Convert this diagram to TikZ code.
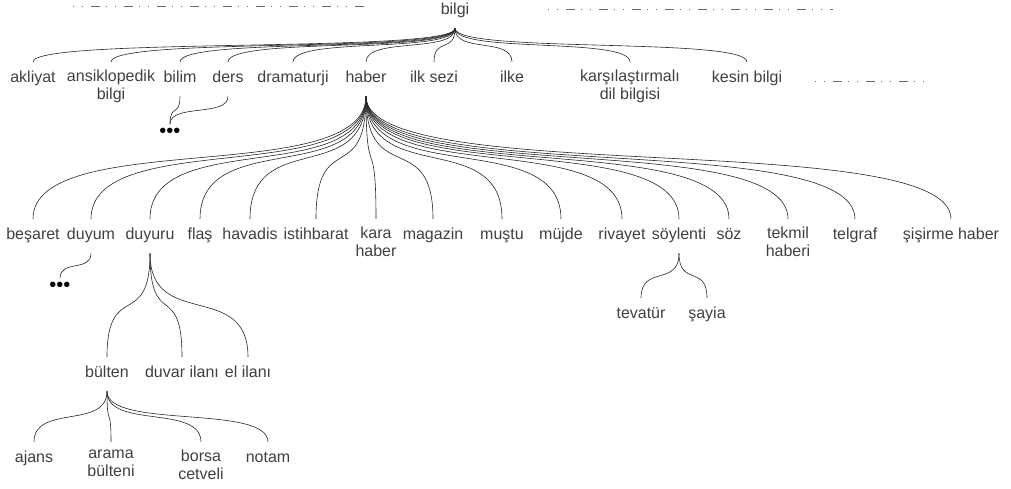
\documentclass[tikz,border=0pt]{standalone}
\usepackage{fontspec}
\setmainfont{Liberation Sans}
\usetikzlibrary{calc}
\tikzset{
  lbl/.style={anchor=north, font=\fontsize{16}{18}\selectfont, text=black!75,
    align=center, inner xsep=1pt, inner ysep=8pt,
    execute at begin node=\strut, execute at end node=\strut},
  dots/.style={anchor=center, font=\fontsize{20}{20}\selectfont, text=black, inner xsep=0pt, inner ysep=4pt},
  conn/.style={draw=black!85, line width=0.6pt},
  branch/.style={to path={let \p1=(\tikztostart), \p2=(\tikztotarget), \n1={0.75*(\y2-\y1)} in
      .. controls (\x1,\y1+\n1) and (\x2,\y2-\n1) .. (\tikztotarget)}},
  dd/.style={draw=black!60, line width=0.6pt, dash pattern=on 1pt off 8pt on 1pt off 8pt on 9pt off 6pt}
}
\begin{document}
\begin{tikzpicture}[x=1pt,y=-1pt]
\useasboundingbox (0,0) rectangle (1011,489);
% dotted-dashed rules
\draw[dd] (73,6) -- (367,6);
\draw[dd] (548,9) -- (833,9);
\draw[dd] (815,81) -- (930,81);
% root
\node[lbl] (bilgi) at (455,-6) {bilgi};
% level 1
\node[lbl] (akliyat) at (33,62) {akliyat};
\node[lbl] (ansiklopedik) at (111,62) {ansiklopedik\\bilgi};
\node[lbl] (bilim) at (180,62) {bilim};
\node[lbl] (ders) at (228,62) {ders};
\node[lbl] (dramaturji) at (293,62) {dramaturji};
\node[lbl] (haber) at (366,62) {haber};
\node[lbl] (ilksezi) at (434,62) {ilk sezi};
\node[lbl] (ilke) at (512,62) {ilke};
\node[lbl] (karsilastirmali) at (630,62) {karşılaştırmalı\\dil bilgisi};
\node[lbl] (kesinbilgi) at (747,62) {kesin bilgi};
\node[dots] (dotsA) at (170,133) {•••};
% level 2
\node[lbl] (besaret) at (33,219) {beşaret};
\node[lbl] (duyum) at (91,219) {duyum};
\node[lbl] (duyuru) at (150,219) {duyuru};
\node[lbl] (flas) at (200,219) {flaş};
\node[lbl] (havadis) at (250,219) {havadis};
\node[lbl] (istihbarat) at (316,219) {istihbarat};
\node[lbl] (karahaber) at (376,219) {kara\\haber};
\node[lbl] (magazin) at (433,219) {magazin};
\node[lbl] (mustu) at (502,219) {muştu};
\node[lbl] (mujde) at (561,219) {müjde};
\node[lbl] (rivayet) at (622,219) {rivayet};
\node[lbl] (soylenti) at (679,219) {söylenti};
\node[lbl] (soz) at (729,219) {söz};
\node[lbl] (tekmil) at (788,219) {tekmil\\haberi};
\node[lbl] (telgraf) at (855,219) {telgraf};
\node[lbl] (sisirme) at (951,219) {şişirme haber};
\node[dots] (dotsB) at (60,287) {•••};
% söylenti children
\node[lbl] (tevatur) at (641,298) {tevatür};
\node[lbl] (sayia) at (707,298) {şayia};
% duyuru children
\node[lbl] (bulten) at (107,357) {bülten};
\node[lbl] (duvarilani) at (182,357) {duvar ilanı};
\node[lbl] (elilani) at (248,357) {el ilanı};
% bülten children
\node[lbl] (ajans) at (34,442) {ajans};
\node[lbl] (arama) at (111,442) {arama\\bülteni};
\node[lbl] (borsa) at (201,442) {borsa\\cetveli};
\node[lbl] (notam) at (268,442) {notam};
% connectors
\foreach \c in {akliyat,ansiklopedik,bilim,ders,dramaturji,haber,ilksezi,ilke,karsilastirmali,kesinbilgi}
  \draw[conn] (bilgi.south) to[branch] (\c.north);
\draw[conn] (bilim.south) to[branch] (dotsA.north);
\draw[conn] (ders.south) to[branch] (dotsA.north);
\foreach \c in {besaret,duyum,duyuru,flas,havadis,istihbarat,karahaber,magazin,mustu,mujde,rivayet,soylenti,soz,tekmil,telgraf,sisirme}
  \draw[conn] (haber.south) to[branch] (\c.north);
\draw[conn] (duyum.south) to[branch] (dotsB.north);
\foreach \c in {tevatur,sayia}
  \draw[conn] (soylenti.south) to[branch] (\c.north);
\foreach \c in {bulten,duvarilani,elilani}
  \draw[conn] (duyuru.south) to[branch] (\c.north);
\foreach \c in {ajans,arama,borsa,notam}
  \draw[conn] (bulten.south) to[branch] (\c.north);
\end{tikzpicture}
\end{document}
